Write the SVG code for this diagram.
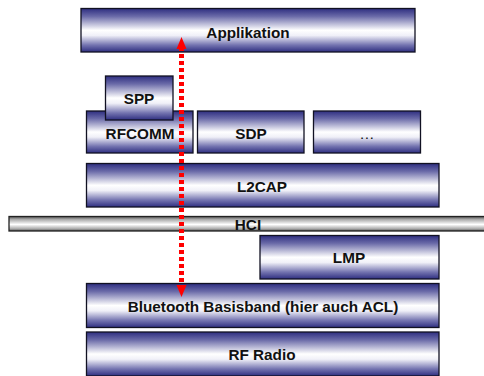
<svg xmlns="http://www.w3.org/2000/svg" width="484" height="376" viewBox="0 0 484 376">
<defs>
<linearGradient id="blue" x1="0" y1="0" x2="0" y2="1">
<stop offset="0" stop-color="#2e2e80"/>
<stop offset="0.18" stop-color="#6a6aa8"/>
<stop offset="0.5" stop-color="#ffffff"/>
<stop offset="0.62" stop-color="#f0f0f8"/>
<stop offset="0.84" stop-color="#7474b0"/>
<stop offset="1" stop-color="#2e2e80"/>
</linearGradient>
<linearGradient id="gray" x1="0" y1="0" x2="0" y2="1">
<stop offset="0" stop-color="#555555"/>
<stop offset="0.2" stop-color="#aaaaaa"/>
<stop offset="0.55" stop-color="#ffffff"/>
<stop offset="0.85" stop-color="#aaaaaa"/>
<stop offset="1" stop-color="#555555"/>
</linearGradient>
</defs>
<style>
.box{fill:url(#blue);stroke:#111122;stroke-width:1.3}
.hci{fill:url(#gray);stroke:#222222;stroke-width:1.3}
text{font-family:"Liberation Sans",Arial,sans-serif;font-weight:bold;font-size:15.3px;fill:#111111;text-anchor:middle}
</style>
<g id="applikation"><rect class="box" x="81" y="8.5" width="334" height="43.5"/><text x="248" y="37.5">Applikation</text></g>
<g id="rfcomm"><rect class="box" x="86.5" y="111" width="106.5" height="42"/><text x="140" y="138.5">RFCOMM</text></g>
<g id="spp"><rect class="box" x="105.5" y="76" width="67.5" height="44"/><text x="139" y="104">SPP</text></g>
<g id="sdp"><rect class="box" x="197.5" y="111" width="106.5" height="42"/><text x="251" y="138.5">SDP</text></g>
<g id="other"><rect class="box" x="313.5" y="111" width="107" height="42"/><text x="367" y="138.5" style="font-weight:normal">…</text></g>
<g id="l2cap"><rect class="box" x="86.5" y="163.5" width="352.5" height="43.5"/><text x="262" y="191.5">L2CAP</text></g>
<g id="hci"><rect class="hci" x="9" y="216.5" width="480" height="14.5"/><text x="248" y="230">HCI</text></g>
<g id="lmp"><rect class="box" x="260" y="235.5" width="179" height="43.5"/><text x="349" y="262.5">LMP</text></g>
<g id="baseband"><rect class="box" x="86.5" y="283.5" width="352.5" height="44"/><text x="263" y="312">Bluetooth Basisband (hier auch ACL)</text></g>
<g id="rfradio"><rect class="box" x="86.5" y="332" width="352.5" height="44"/><text x="262" y="360">RF Radio</text></g>
<g id="connectors">
<line x1="181.5" y1="47" x2="181.5" y2="287" stroke="#ff0000" stroke-width="5" stroke-dasharray="4,3"/>
<path d="M176.5,49 L181.5,37 L186.5,49 Z" fill="#ff0000"/>
<path d="M176.5,285 L181.5,297 L186.5,285 Z" fill="#ff0000"/>
</g>
</svg>
